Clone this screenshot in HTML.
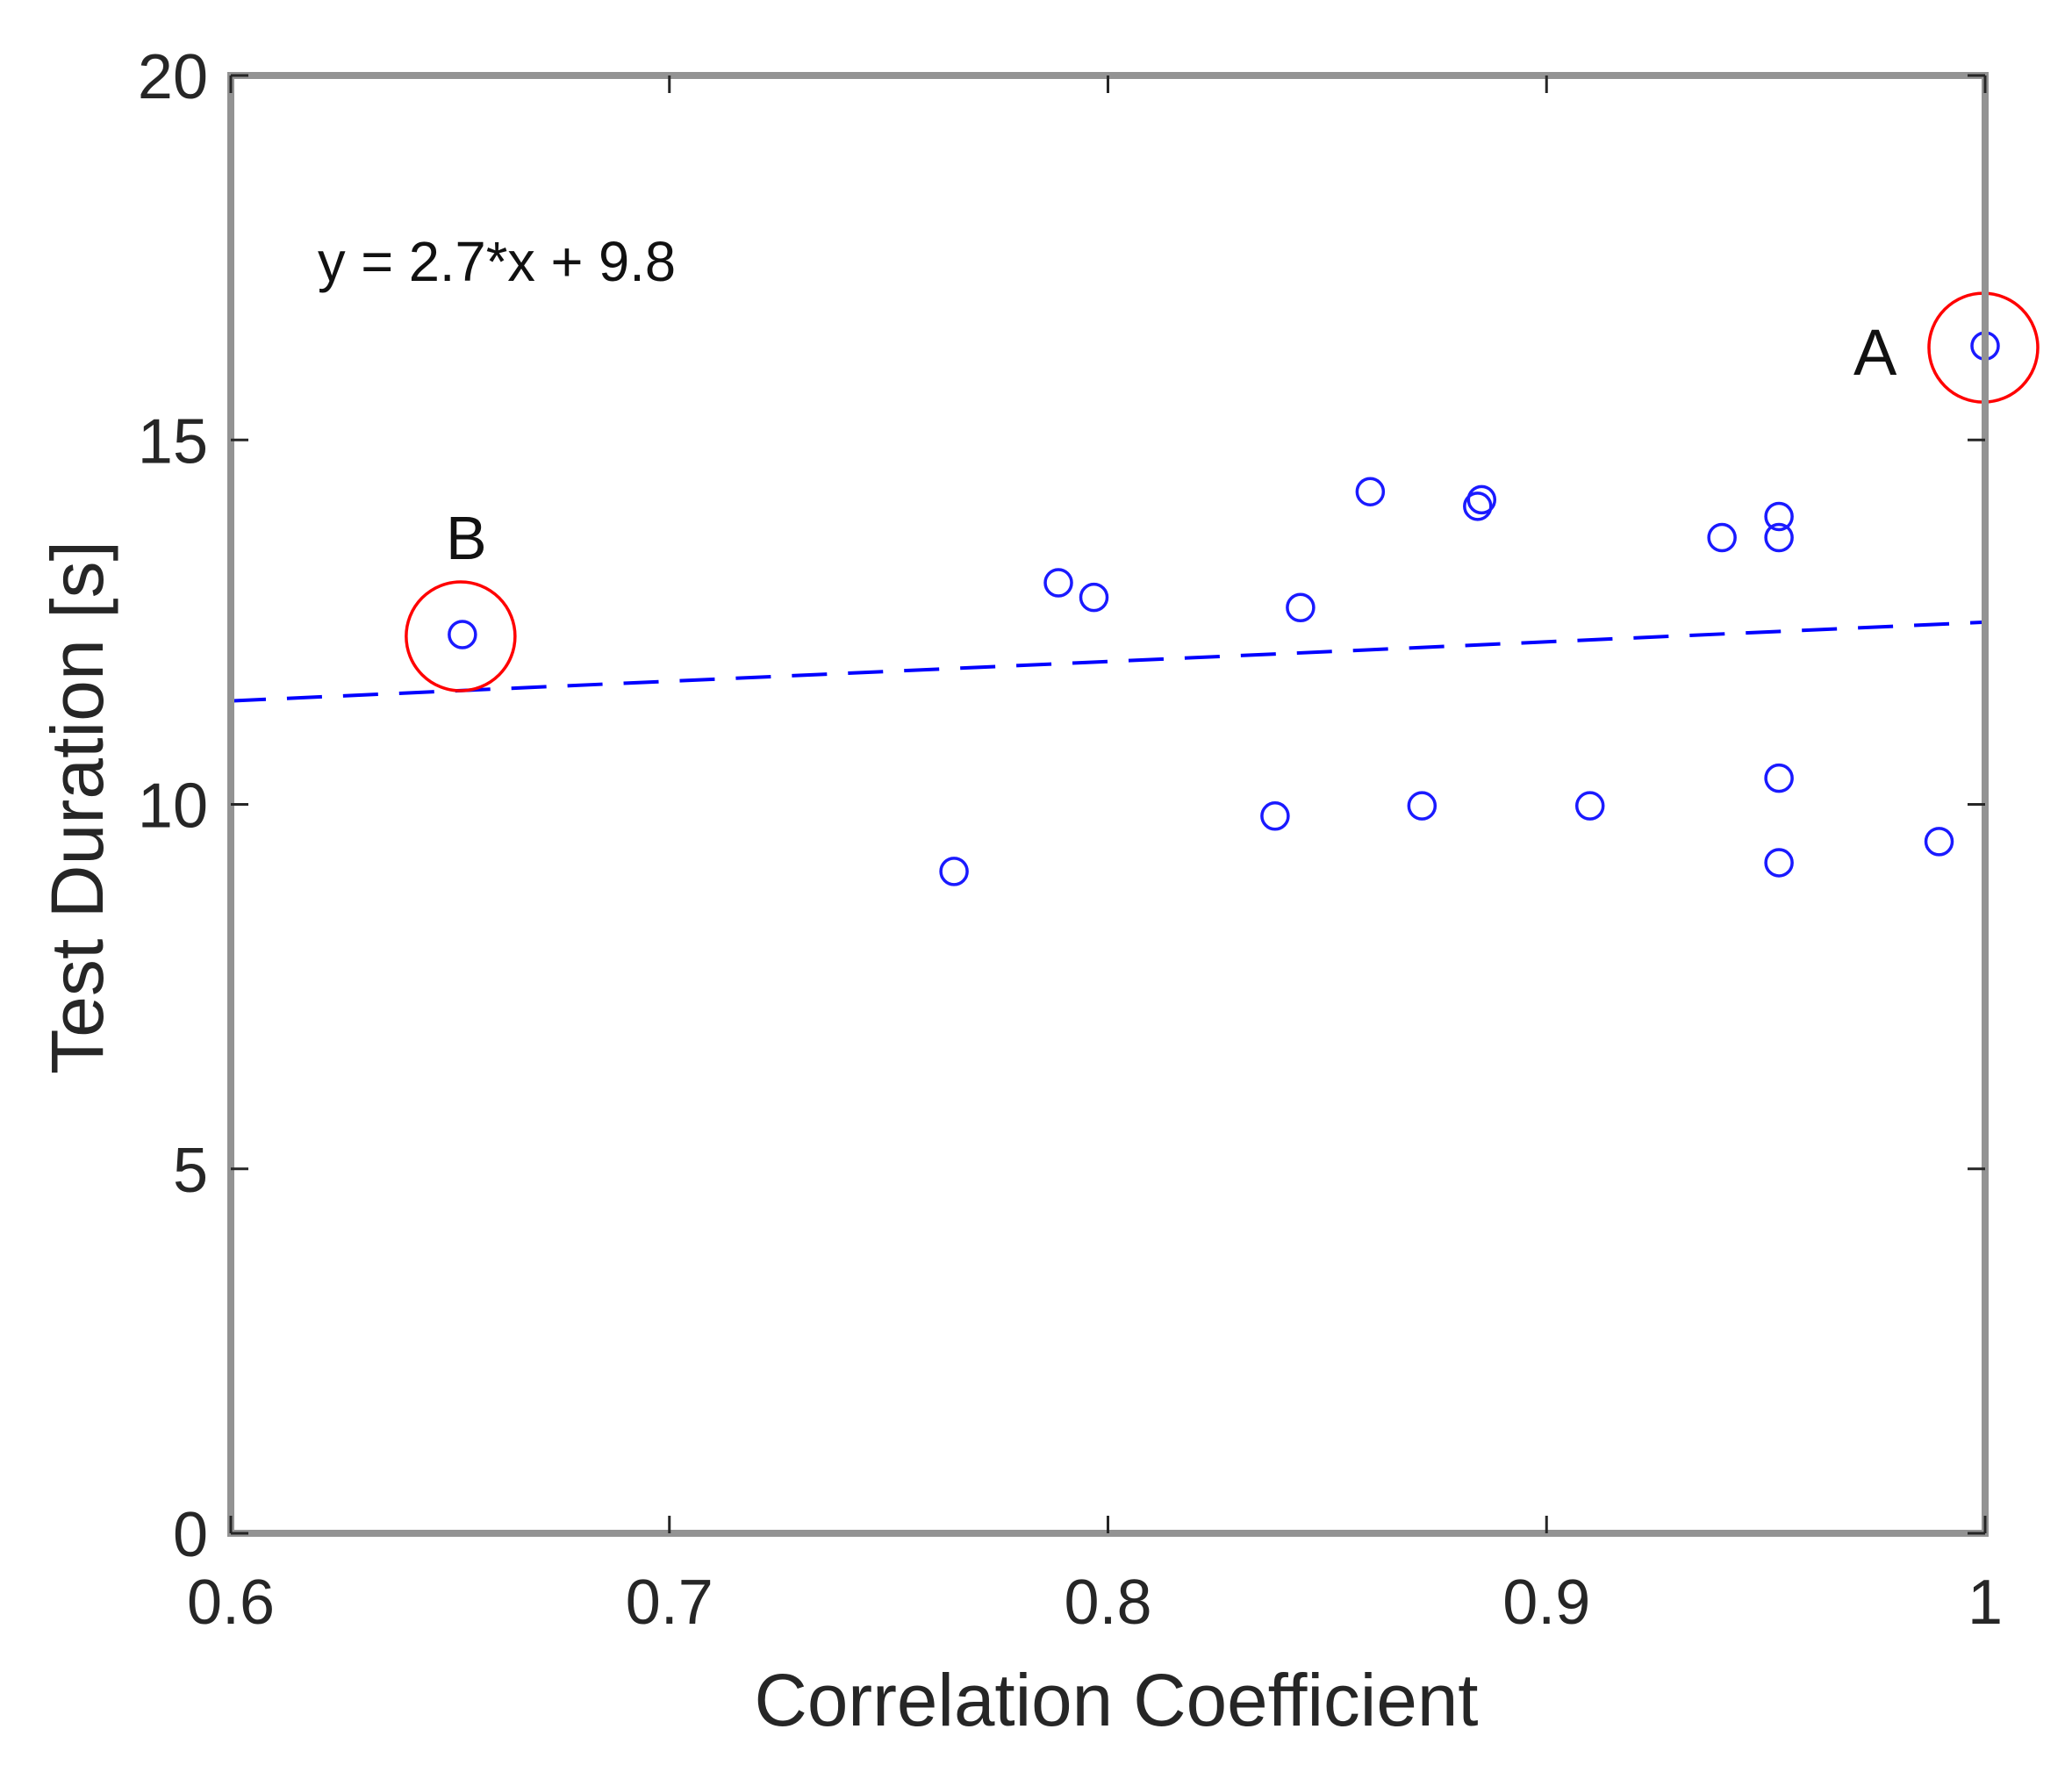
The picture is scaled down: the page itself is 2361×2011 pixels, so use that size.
<!DOCTYPE html>
<html><head><meta charset="utf-8">
<style>html,body{margin:0;padding:0;background:#fff;}svg{display:block;}</style>
</head><body>
<svg id="chart" width="2361" height="2011" viewBox="0 0 2361 2011" xmlns="http://www.w3.org/2000/svg" font-family="'Liberation Sans', Arial, sans-serif">
<rect width="2361" height="2011" fill="#fff"/>
<g id="marks"></g>
<rect x="263" y="86" width="1999" height="1661" fill="none" stroke="#939393" stroke-width="8"/>
<g id="ticks"></g>
<text x="362" y="320" font-size="64" fill="#111" textLength="408" lengthAdjust="spacingAndGlyphs">y = 2.7*x + 9.8</text>
<text x="2112" y="427" font-size="74" fill="#111">A</text>
<text x="508" y="637" font-size="70" fill="#111">B</text>
<text x="1272" y="1966" font-size="84" fill="#262626" text-anchor="middle" textLength="825" lengthAdjust="spacingAndGlyphs">Correlation Coefficient</text>
<text transform="translate(117,920) rotate(-90)" font-size="84" fill="#262626" text-anchor="middle" textLength="608" lengthAdjust="spacingAndGlyphs">Test Duration [s]</text>
</svg>
<script>
const xVals = [0.6528, 1.0, 0.7649, 0.7887, 0.7968, 0.8381, 0.8439, 0.8598, 0.8716, 0.8843, 0.8852, 0.9099, 0.9400, 0.9530, 0.9530, 0.9530, 0.9530, 0.9895];
const yVals = [12.33, 16.29, 9.08, 13.04, 12.84, 9.84, 12.70, 14.29, 9.98, 14.09, 14.18, 9.98, 13.66, 13.95, 13.66, 10.36, 9.20, 9.49];
const xTicks = [0.6, 0.7, 0.8, 0.9, 1];
const xTickLabels = ["0.6", "0.7", "0.8", "0.9", "1"];
const yTicks = [0, 5, 10, 15, 20];
const yTickLabels = ["0", "5", "10", "15", "20"];
const fitSlope = 2.7;
const fitIntercept = 9.8;
const highlightX = [1.0, 0.6528];
const highlightY = [16.29, 12.33];

const L = 263, R = 2262, T = 86, B = 1747;
const xMin = 0.6, xMax = 1.0, yMin = 0, yMax = 20;
function sx(v){ return L + (v - xMin) / (xMax - xMin) * (R - L); }
function sy(v){ return B - (v - yMin) / (yMax - yMin) * (B - T); }
const NS = "http://www.w3.org/2000/svg";
const marks = document.getElementById('marks');
const ticks = document.getElementById('ticks');

const fl = document.createElementNS(NS, 'line');


fl.setAttribute('x1', sx(xMin)); fl.setAttribute('y1', sy(fitSlope * xMin + fitIntercept));
fl.setAttribute('x2', sx(xMax)); fl.setAttribute('y2', sy(fitSlope * xMax + fitIntercept));
fl.setAttribute('stroke', '#0000ff'); fl.setAttribute('stroke-width', '4');
fl.setAttribute('stroke-dasharray', '40 24');
marks.appendChild(fl);

for (let i = 0; i < xVals.length; i++) {
  const c = document.createElementNS(NS, 'circle');
  
  
  c.setAttribute('cx', sx(xVals[i])); c.setAttribute('cy', sy(yVals[i]));
  c.setAttribute('r', 15); c.setAttribute('fill', 'none');
  c.setAttribute('stroke', '#1a1aff'); c.setAttribute('stroke-width', '3.5');
  marks.appendChild(c);
}
for (let i = 0; i < highlightX.length; i++) {
  const c = document.createElementNS(NS, 'circle');
  
  
  c.setAttribute('cx', sx(highlightX[i]) - 2); c.setAttribute('cy', sy(highlightY[i]) + 2);
  c.setAttribute('r', 62); c.setAttribute('fill', 'none');
  c.setAttribute('stroke', '#ff0000'); c.setAttribute('stroke-width', '3.5');
  marks.appendChild(c);
}
for (let i = 0; i < xTicks.length; i++) {
  const x = sx(xTicks[i]);
  [[B, B - 20], [T, T + 20]].forEach(function(p){
    const t = document.createElementNS(NS, 'line');
    
    
    t.setAttribute('x1', x); t.setAttribute('x2', x);
    t.setAttribute('y1', p[0]); t.setAttribute('y2', p[1]);
    t.setAttribute('stroke', '#262626'); t.setAttribute('stroke-width', '3');
    ticks.appendChild(t);
  });
  const lb = document.createElementNS(NS, 'text');
  
  
  lb.setAttribute('x', x); lb.setAttribute('y', 1850);
  lb.setAttribute('font-size', '72'); lb.setAttribute('fill', '#262626');
  lb.setAttribute('text-anchor', 'middle');
  lb.textContent = xTickLabels[i];
  ticks.appendChild(lb);
}
for (let i = 0; i < yTicks.length; i++) {
  const y = sy(yTicks[i]);
  [[L, L + 20], [R, R - 20]].forEach(function(p){
    const t = document.createElementNS(NS, 'line');
    
    
    t.setAttribute('x1', p[0]); t.setAttribute('x2', p[1]);
    t.setAttribute('y1', y); t.setAttribute('y2', y);
    t.setAttribute('stroke', '#262626'); t.setAttribute('stroke-width', '3');
    ticks.appendChild(t);
  });
  const lb = document.createElementNS(NS, 'text');
  
  
  lb.setAttribute('x', 237); lb.setAttribute('y', y + 26);
  lb.setAttribute('font-size', '72'); lb.setAttribute('fill', '#262626');
  lb.setAttribute('text-anchor', 'end');
  lb.textContent = yTickLabels[i];
  ticks.appendChild(lb);
}
</script>
</body></html>
